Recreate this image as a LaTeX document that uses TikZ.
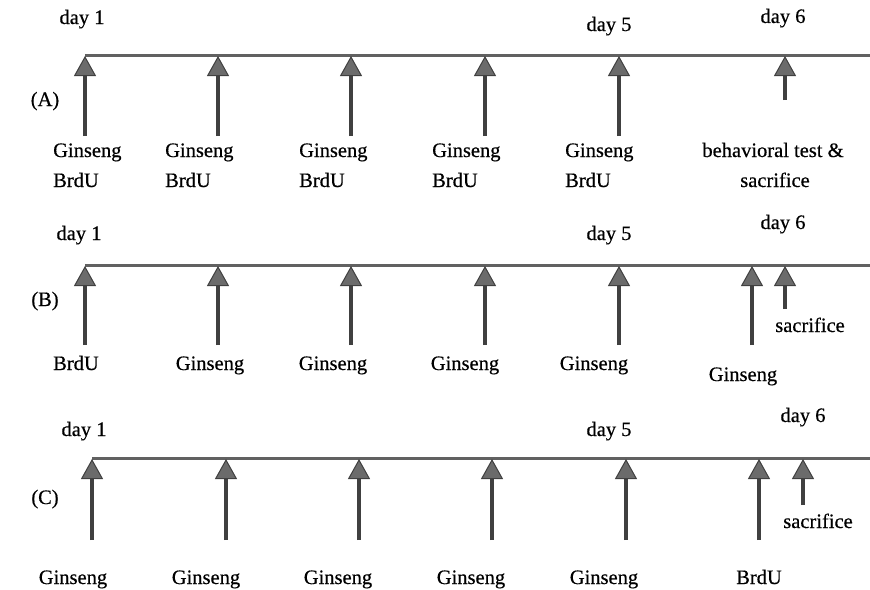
\documentclass[tikz,border=0pt]{standalone}
\usepackage{fontspec}
\setmainfont{Liberation Serif}[FakeBold=0.5]
\usetikzlibrary{arrows.meta}
\tikzset{
  timeline/.style={line width=3pt, draw=black!62},
  dose/.style={line width=3.8pt, draw=black!75,
    -{Triangle[width=22pt,length=20pt,line width=1pt,fill=black!58]}},
  lbl/.style={font=\fontsize{20.5}{24}\selectfont, inner sep=0pt, anchor=base},
  lblw/.style={lbl, anchor=base west}
}
\begin{document}
\begin{tikzpicture}[x=1pt,y=-1pt]
\useasboundingbox (0,0) rectangle (870,589);

% ---------- (A) ----------
\coordinate (A0) at (85,55);  \coordinate (Aend) at (870,55);
\draw[timeline] (A0) -- (Aend);
\foreach \i/\x in {1/85,2/218,3/351,4/485,5/619}{
  \coordinate (A\i) at (\x,56);
  \coordinate (A\i b) at (\x,136);
  \draw[dose] (A\i b) -- (A\i);
}
\coordinate (A6) at (785,56); \coordinate (A6b) at (785,100);
\draw[dose] (A6b) -- (A6);
\foreach \i/\x in {1/53,2/165,3/299,4/432,5/565}{
  \node[lblw] (Ag\i) at (\x,157) {Ginseng};
  \node[lblw] (Ab\i) at (\x,187) {BrdU};
}
\node[lbl] (Abeh) at (773,157) {behavioral test \&};
\node[lbl] (Asac) at (775,187) {sacrifice};
\node[lbl] (Ad1) at (82,24) {day 1};
\node[lbl] (Ad5) at (609,31) {day 5};
\node[lbl] (Ad6) at (783,23) {day 6};
\node[lbl] (Alab) at (45,106) {(A)};

% ---------- (B) ----------
\coordinate (B0) at (85,265); \coordinate (Bend) at (870,265);
\draw[timeline] (B0) -- (Bend);
\foreach \i/\x in {1/85,2/218,3/351,4/485,5/619,6/752}{
  \coordinate (B\i) at (\x,266);
  \coordinate (B\i b) at (\x,345);
  \draw[dose] (B\i b) -- (B\i);
}
\coordinate (B7) at (785,266); \coordinate (B7b) at (785,309);
\draw[dose] (B7b) -- (B7);
\node[lblw] (Bb1) at (53,370) {BrdU};
\foreach \i/\x in {2/210,3/333,4/465,5/594}{
  \node[lbl] (Bg\i) at (\x,370) {Ginseng};
}
\node[lbl] (Bg6) at (743,381) {Ginseng};
\node[lbl] (Bsac) at (810,332) {sacrifice};
\node[lbl] (Bd1) at (79,240) {day 1};
\node[lbl] (Bd5) at (609,240) {day 5};
\node[lbl] (Bd6) at (783,229) {day 6};
\node[lbl] (Blab) at (45,306) {(B)};

% ---------- (C) ----------
\coordinate (C0) at (92,458); \coordinate (Cend) at (870,458);
\draw[timeline] (C0) -- (Cend);
\foreach \i/\x in {1/92,2/226,3/359,4/492,5/626,6/759}{
  \coordinate (C\i) at (\x,459);
  \coordinate (C\i b) at (\x,540);
  \draw[dose] (C\i b) -- (C\i);
}
\coordinate (C7) at (803,459); \coordinate (C7b) at (803,505);
\draw[dose] (C7b) -- (C7);
\foreach \i/\x in {1/73,2/206,3/338,4/471,5/604}{
  \node[lbl] (Cg\i) at (\x,584) {Ginseng};
}
\node[lbl] (Cb6) at (759,584) {BrdU};
\node[lbl] (Csac) at (818,528) {sacrifice};
\node[lbl] (Cd1) at (84,436) {day 1};
\node[lbl] (Cd5) at (609,436) {day 5};
\node[lbl] (Cd6) at (803,422) {day 6};
\node[lbl] (Clab) at (45,504) {(C)};
\end{tikzpicture}
\end{document}
